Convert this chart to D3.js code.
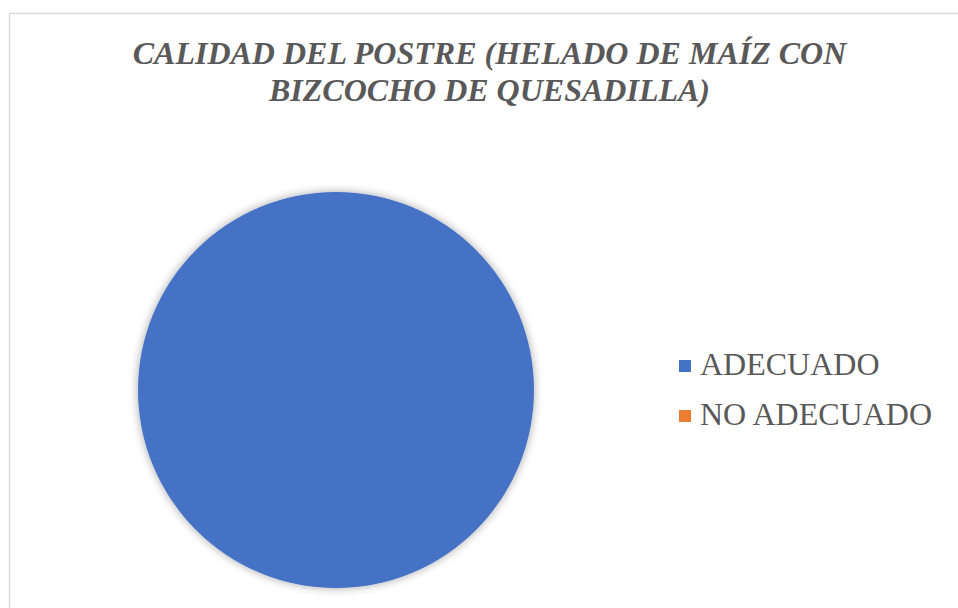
<!DOCTYPE html>
<html>
<head>
<meta charset="utf-8">
<script src="https://cdn.jsdelivr.net/npm/d3@7"></script>
<style>
  html, body { margin: 0; padding: 0; background: #fff; }
  svg { display: block; }
</style>
</head>
<body>
<svg id="chart" width="958" height="608"></svg>
<script>
// Chart data
const titleLines = ["CALIDAD DEL POSTRE (HELADO DE MAÍZ CON", "BIZCOCHO DE QUESADILLA)"];
const categories = ["ADECUADO", "NO ADECUADO"];
const values = [100, 0];
const colors = ["#4472C4", "#ED7D31"];

const svg = d3.select("#chart");
const W = 958, H = 608;
const SERIF = '"Liberation Serif", "Times New Roman", Times, serif';

// Chart area frame
svg.append("rect")
  .attr("x", 9.5).attr("y", 13.5)
  .attr("width", W).attr("height", H)
  .attr("fill", "#fff")
  .attr("stroke", "#d9d9d9").attr("stroke-width", 1.5);

// Soft glow under the pie
const defs = svg.append("defs");
const f = defs.append("filter").attr("id", "glow")
  .attr("x", "-20%").attr("y", "-20%").attr("width", "140%").attr("height", "140%");
f.append("feGaussianBlur").attr("in", "SourceAlpha").attr("stdDeviation", 5).attr("result", "b");
f.append("feComponentTransfer").attr("in", "b").attr("result", "s")
  .append("feFuncA").attr("type", "linear").attr("slope", 0.35);
const m = f.append("feMerge");
m.append("feMergeNode").attr("in", "s");
m.append("feMergeNode").attr("in", "SourceGraphic");

// Title
const title = svg.append("text")
  .attr("text-anchor", "middle")
  .style("font-family", SERIF)
  .style("font-weight", "bold").style("font-style", "italic")
  .style("font-size", "32px").attr("fill", "#595959");
titleLines.forEach((t, i) => {
  title.append("tspan").attr("x", 489.5).attr("y", 64 + i * 37).text(t);
});

// Pie
const cx = 336, cy = 390, r = 198;
const pie = d3.pie().sort(null).value(d => d.v);
const arc = d3.arc().innerRadius(0).outerRadius(r);
const data = categories.map((c, i) => ({ c, v: values[i] }));
const color = d3.scaleOrdinal().domain(categories).range(colors);

svg.append("g")
  .attr("transform", `translate(${cx},${cy})`)
  .attr("filter", "url(#glow)")
  .selectAll("path")
  .data(pie(data).filter(d => d.endAngle > d.startAngle))
  .join("path")
  .attr("d", arc)
  .attr("fill", d => color(d.data.c));

// Legend
const legend = svg.append("g").attr("transform", "translate(679,0)");
const ly = d3.scalePoint().domain(categories).range([366, 416]);
const items = legend.selectAll("g").data(categories).join("g")
  .attr("transform", d => `translate(0,${ly(d)})`);
items.append("rect")
  .attr("x", 0).attr("y", -6).attr("width", 12).attr("height", 12)
  .attr("fill", d => color(d));
items.append("text")
  .attr("x", 21).attr("y", 9)
  .style("font-family", SERIF)
  .style("font-size", "32px").attr("fill", "#595959")
  .text(d => d);
</script>
</body>
</html>
